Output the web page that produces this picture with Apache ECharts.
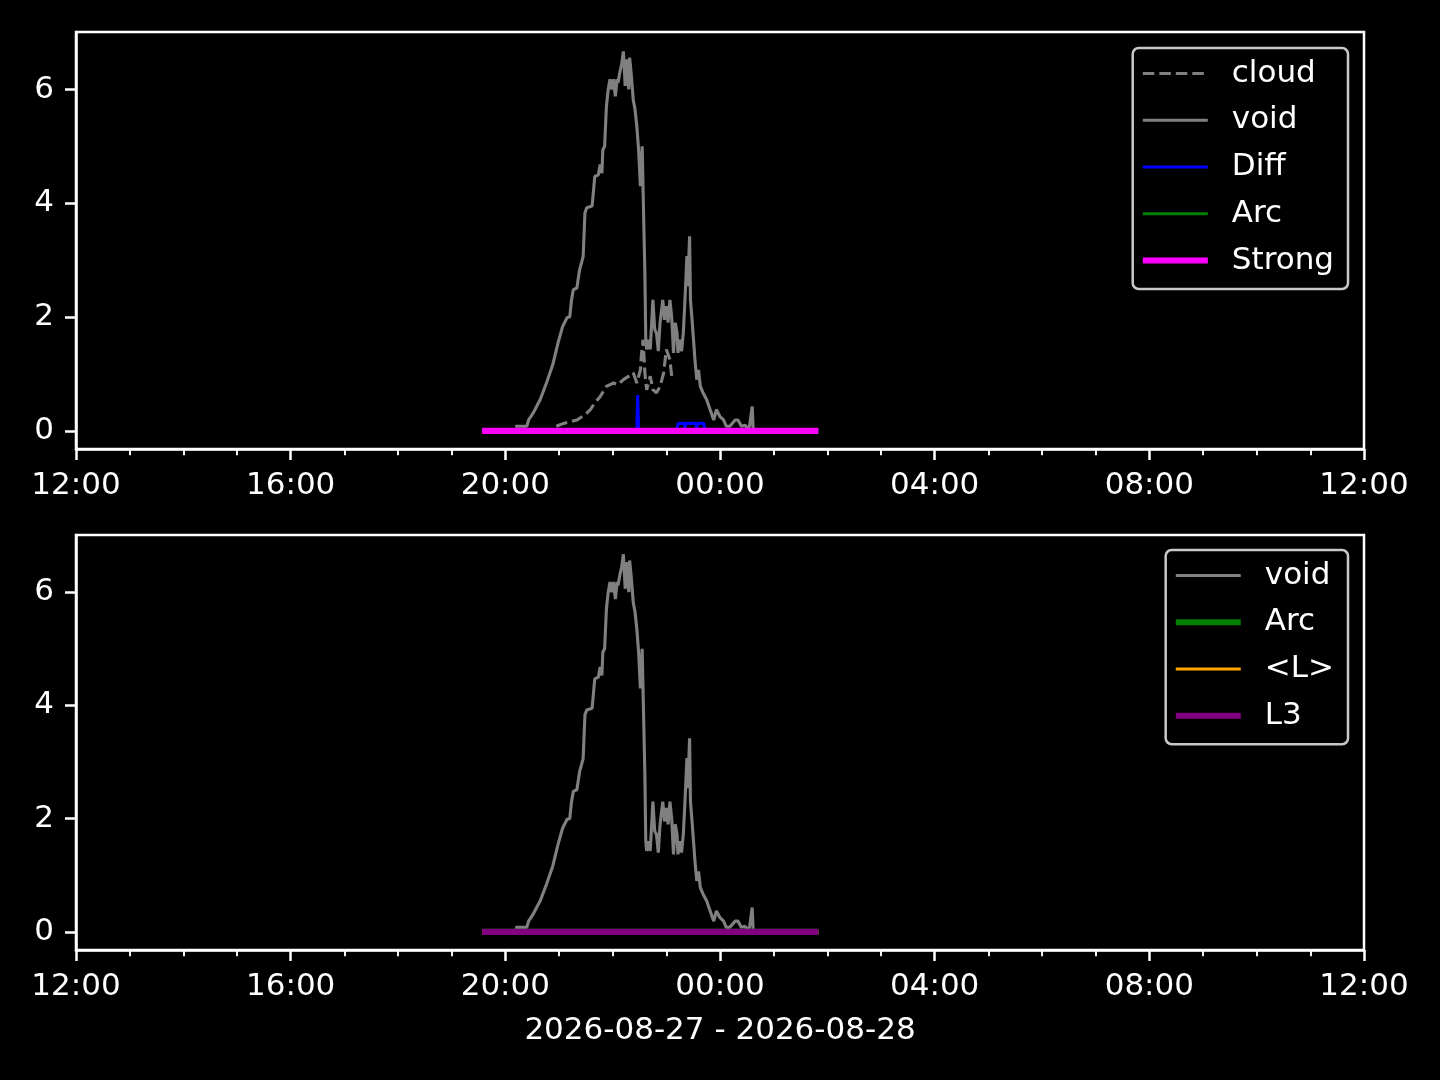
<!DOCTYPE html>
<html>
<head>
<meta charset="utf-8">
<script src="https://cdn.jsdelivr.net/npm/echarts@6/dist/echarts.min.js"></script>
<style>
html,body{margin:0;padding:0;background:#000;}
#chart{width:1440px;height:1080px;}
</style>
</head>
<body>
<div id="chart"></div>
<script>
// ---- data (clock time, value) ----
const voidTimes = ["20:11","20:24","20:26","20:31","20:39","20:46","20:53","20:59","21:04","21:09","21:12","21:14","21:16","21:20","21:23","21:27","21:29","21:31","21:37","21:38","21:40","21:44","21:46","21:48","21:49","21:51","21:53","21:55","21:57","21:59","22:01","22:03","22:05","22:06","22:08","22:10","22:12","22:14","22:16","22:18","22:19","22:21","22:23","22:25","22:27","22:29","22:31","22:33","22:34","22:36","22:37","22:38","22:40","22:42","22:44","22:45","22:47","22:49","22:51","22:53","22:56","22:58","23:00","23:02","23:04","23:06","23:08","23:10","23:12","23:13","23:15","23:17","23:19","23:21","23:23","23:24","23:26","23:27","23:29","23:32","23:34","23:36","23:38","23:41","23:45","23:49","23:53","23:56","00:00","00:04","00:07","00:11","00:17","00:20","00:24","00:28","00:30","00:33","00:36","00:37"];
const voidValues = [0.08,0.08,0.19,0.31,0.55,0.84,1.16,1.55,1.83,1.99,2.0,2.3,2.48,2.51,2.83,3.06,3.83,3.92,3.95,4.12,4.47,4.5,4.68,4.53,4.94,5.0,5.7,6.0,6.18,6.0,6.18,5.88,6.18,6.12,6.3,6.44,6.67,6.06,6.53,6.0,6.56,6.23,5.82,5.65,5.35,4.94,4.3,5.0,4.24,2.78,1.6,1.43,1.6,1.43,2.01,2.3,1.78,1.72,1.4,1.9,2.3,1.95,2.19,1.9,2.3,2.0,1.37,1.9,1.72,1.37,1.6,1.4,1.72,2.36,3.07,2.54,3.42,2.3,1.9,1.25,0.9,1.07,0.78,0.67,0.55,0.37,0.19,0.37,0.25,0.19,0.08,0.08,0.19,0.19,0.08,0.1,0.05,0.08,0.43,0.05];

const cloudTimes = ["20:57","21:05","21:20","21:29","21:35","21:40","21:46","21:53","22:01","22:06","22:12","22:18","22:23","22:27","22:31","22:32","22:34","22:36","22:38","22:42","22:45","22:49","22:53","22:57","23:00","23:04","23:06","23:08"];
const cloudValues = [0.08,0.13,0.19,0.28,0.37,0.49,0.6,0.78,0.84,0.81,0.9,0.96,1.02,0.84,1.07,1.31,1.6,1.02,0.72,0.96,0.72,0.67,0.78,1.02,1.43,1.25,0.96,0.9];

const diffTimes = ["19:34","22:27","22:28","22:29","23:12","23:13","23:20","23:21","23:22","23:33","23:34","23:35","23:42","23:43","01:50"];
const diffValues = [0,0,0.63,0,0,0.13,0.13,0.05,0.13,0.13,0.05,0.13,0.13,0,0];

const baseTimes = ["19:34","01:50"];
const arcTopValues = [0,0];
const strongValues = [0,0];
const arcBottomValues = [0,0];
const lValues = [0,0];
const l3Values = [0,0];

const xTickLabels = ["12:00","16:00","20:00","00:00","04:00","08:00","12:00"];
const yTicks = [0,2,4,6];
const dateLabel = "2026-08-27 - 2026-08-28";

// ---- helpers ----
function toHours(t){
  const [h,m] = t.split(":").map(Number);
  return ((h - 12 + 24) % 24) + m/60;
}
function pairs(times, vals){ return times.map((t,i)=>[toHours(t), vals[i]]); }

const FONT = "DejaVu Sans";
const FS = 31;
const GRAY = "#808080";
const LW = 3.1, LW2 = 6.2;
const DASH = [11.5, 5];

function xAxisDef(idx, withName){
  return {
    type:'value', gridIndex:idx, min:0, max:24, interval:4,
    axisLine:{show:true, onZero:false, lineStyle:{color:'#fff', width:2.5}},
    axisTick:{show:true, length:11, lineStyle:{color:'#fff', width:2.5}},
    minorTick:{show:true, splitNumber:4, length:6.2, lineStyle:{color:'#fff', width:1.9}},
    splitLine:{show:false},
    axisLabel:{color:'#fff', fontSize:FS, fontFamily:FONT, margin:21,
      formatter:(v)=>xTickLabels[Math.round(v/4)]},
    name: withName ? dateLabel : '',
    nameLocation:'middle', nameGap:65,
    nameTextStyle:{color:'#fff', fontSize:FS, fontFamily:FONT}
  };
}
function yAxisDef(idx){
  return {
    type:'value', gridIndex:idx, min:-0.32, max:7.01,
    axisLine:{show:true, lineStyle:{color:'#fff', width:2.5}},
    axisTick:{show:true, length:11, lineStyle:{color:'#fff', width:2.5}, customValues:yTicks},
    splitLine:{show:false},
    axisLabel:{color:'#fff', fontSize:FS, fontFamily:FONT, margin:22, customValues:yTicks}
  };
}
function lineSeries(name, idx, data, color, width, type){
  return {
    type:'line', name:name, xAxisIndex:idx, yAxisIndex:idx, data:data,
    symbol:'none', showSymbol:false, smooth:false,
    lineStyle:{color:color, width:width, type:type||'solid'},
    itemStyle:{color:color},
    emphasis:{disabled:true}, silent:true
  };
}
function legendDef(top, items){
  return {
    orient:'vertical', right:92, top:top,
    padding:[10,14,13,7],
    itemWidth:65, itemHeight:28, itemGap:15.75,
    backgroundColor:'rgba(0,0,0,0.8)',
    borderColor:'#c8c8c8', borderWidth:2.5, borderRadius:6,
    selectedMode:false,
    textStyle:{color:'#fff', fontSize:FS, fontFamily:FONT, padding:[0,0,0,19]},
    data: items.map(it=>({name:it.name,
      lineStyle:{color:it.color, width:it.width, type:it.type||'solid'},
      itemStyle:{color:'rgba(0,0,0,0)', borderWidth:0, opacity:0}}))
  };
}

const chart = echarts.init(document.getElementById('chart'), null, {renderer:'canvas'});
chart.setOption({
  backgroundColor:'#000',
  animation:false,
  grid:[
    {left:76, right:76, top:32, height:417, show:true, borderColor:'#fff', borderWidth:2.5, backgroundColor:'#000'},
    {left:76, right:76, top:535, height:415, show:true, borderColor:'#fff', borderWidth:2.5, backgroundColor:'#000'}
  ],
  xAxis:[xAxisDef(0,false), xAxisDef(1,true)],
  yAxis:[yAxisDef(0), yAxisDef(1)],
  legend:[
    legendDef(48, [
      {name:'cloud', color:GRAY, width:LW, type:DASH},
      {name:'void', color:GRAY, width:LW},
      {name:'Diff', color:'#0000ff', width:LW},
      {name:'Arc', color:'#008000', width:LW},
      {name:'Strong', color:'#ff00ff', width:LW2}
    ]),
    legendDef(550, [
      {name:'void', color:GRAY, width:LW},
      {name:'Arc', color:'#008000', width:LW2},
      {name:'<L>', color:'#ffa500', width:LW},
      {name:'L3', color:'#800080', width:LW2}
    ])
  ],
  series:[
    lineSeries('cloud', 0, pairs(cloudTimes, cloudValues), GRAY, LW, DASH),
    lineSeries('void', 0, pairs(voidTimes, voidValues), GRAY, LW),
    lineSeries('Diff', 0, pairs(diffTimes, diffValues), '#0000ff', LW),
    lineSeries('Arc', 0, pairs(baseTimes, arcTopValues), '#008000', LW),
    lineSeries('Strong', 0, pairs(baseTimes, strongValues), '#ff00ff', LW2),
    lineSeries('void', 1, pairs(voidTimes, voidValues), GRAY, LW),
    lineSeries('Arc', 1, pairs(baseTimes, arcBottomValues), '#008000', LW2),
    lineSeries('<L>', 1, pairs(baseTimes, lValues), '#ffa500', LW),
    lineSeries('L3', 1, pairs(baseTimes, l3Values), '#800080', LW2)
  ]
});
</script>
</body>
</html>
